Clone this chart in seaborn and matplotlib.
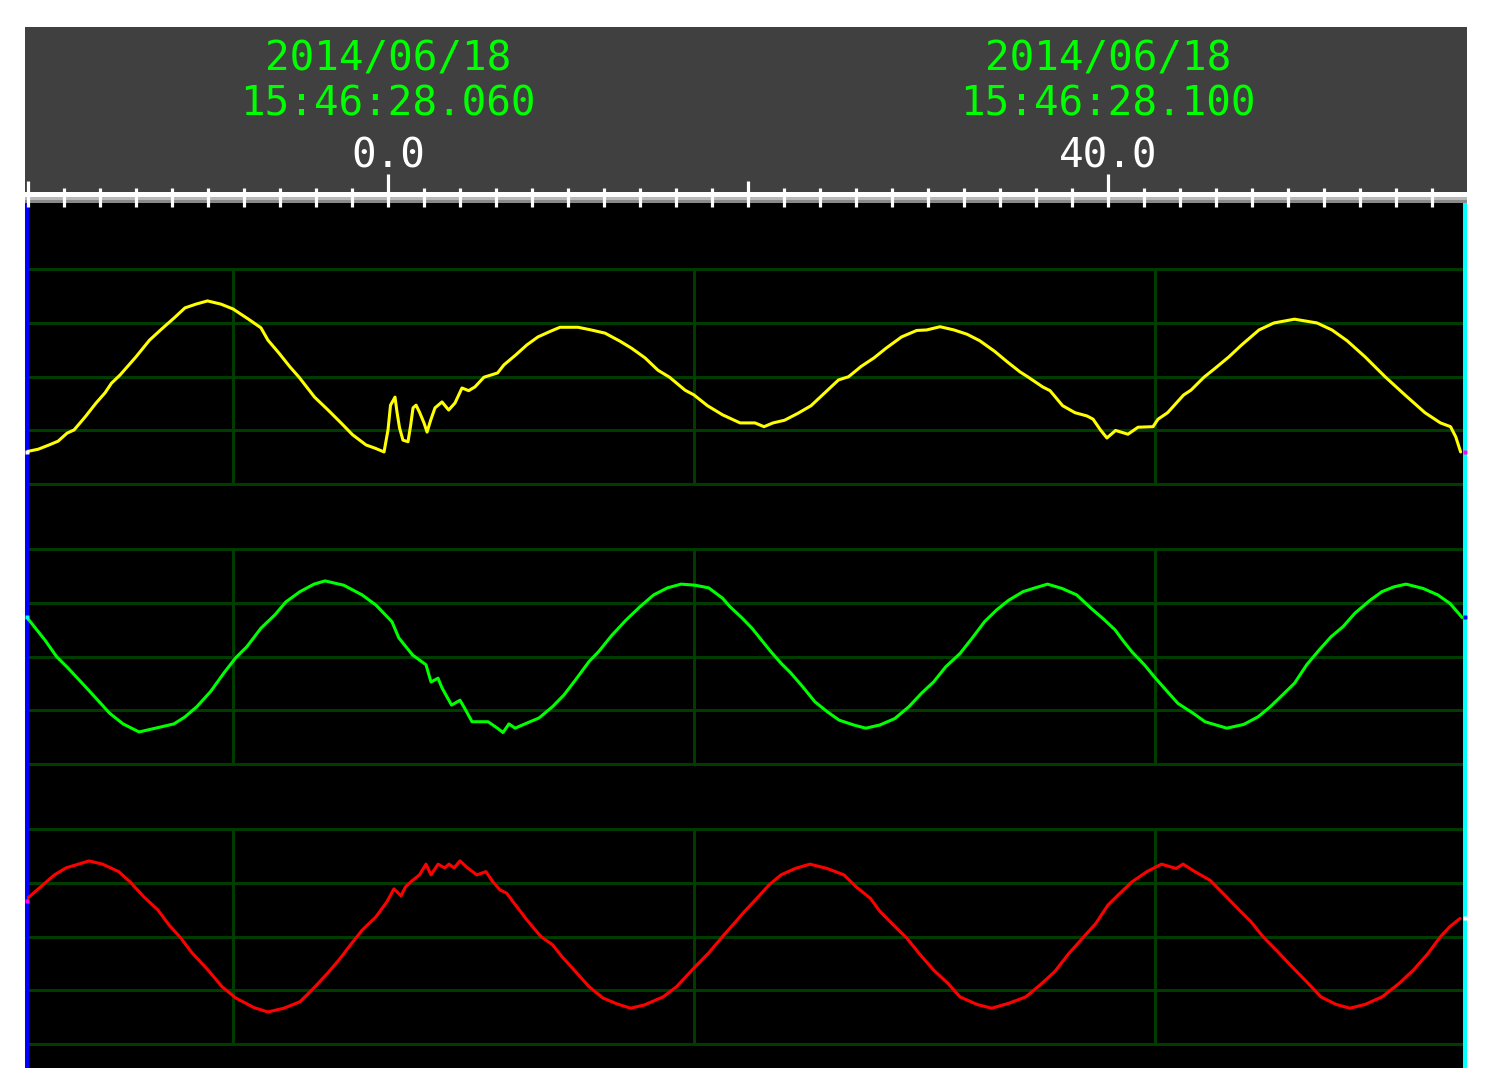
import numpy as np
import matplotlib
matplotlib.use('Agg')
import matplotlib.pyplot as plt
import seaborn as sns

# ── recorded samples: time in ms (0 = first cursor), value in grid divisions
t_a = [-20.17, -19.44, -18.83, -18.33, -17.83, -17.44, -16.83, -16.22, -15.72, -15.36,
       -14.89, -14.00, -13.25, -12.50, -11.89, -11.28, -10.67, -10.03, -9.28, -8.61,
       -7.75, -7.06, -6.67, -6.06, -5.44, -4.94, -4.08, -3.33, -2.61, -1.97,
       -1.22, -0.72, -0.22, 0.00, 0.14, 0.39, 0.50, 0.64, 0.83, 1.11,
       1.26, 1.39, 1.56, 1.75, 2.00, 2.17, 2.37, 2.61, 3.00, 3.37,
       3.72, 4.11, 4.48, 4.83, 5.33, 6.09, 6.44, 7.08, 7.71, 8.33,
       9.06, 9.56, 10.56, 11.28, 12.06, 12.89, 13.53, 14.28, 15.00, 15.64,
       16.50, 17.00, 17.75, 18.59, 19.56, 20.39, 20.89, 21.39, 22.03, 22.78,
       23.50, 24.33, 25.03, 25.59, 26.28, 27.00, 27.67, 28.53, 29.37, 29.93,
       30.67, 31.44, 32.17, 32.87, 33.71, 34.39, 35.11, 35.53, 36.37, 36.78,
       37.48, 38.17, 38.83, 39.17, 39.58, 39.94, 40.42, 41.11, 41.67, 42.50,
       42.78, 43.31, 44.20, 44.61, 45.33, 45.89, 46.72, 47.42, 48.39, 49.22,
       50.36, 51.61, 52.44, 53.28, 54.28, 55.39, 56.50, 57.61, 58.47, 59.03,
       59.32, 59.59]
u_a = [-1.40, -1.35, -1.27, -1.20, -1.05, -0.99, -0.75, -0.49, -0.30, -0.12,
       0.03, 0.37, 0.68, 0.91, 1.09, 1.28, 1.35, 1.41, 1.35, 1.26,
       1.07, 0.91, 0.68, 0.44, 0.18, -0.01, -0.38, -0.62, -0.86, -1.08,
       -1.27, -1.33, -1.40, -0.99, -0.53, -0.38, -0.66, -0.95, -1.18, -1.21,
       -0.90, -0.58, -0.53, -0.66, -0.86, -1.03, -0.81, -0.58, -0.47, -0.62,
       -0.49, -0.21, -0.26, -0.19, -0.01, 0.07, 0.22, 0.40, 0.59, 0.74,
       0.85, 0.92, 0.92, 0.87, 0.81, 0.66, 0.53, 0.35, 0.12, -0.01,
       -0.25, -0.34, -0.54, -0.71, -0.86, -0.86, -0.93, -0.86, -0.81, -0.68,
       -0.54, -0.28, -0.06, 0.00, 0.19, 0.35, 0.53, 0.74, 0.86, 0.87,
       0.93, 0.87, 0.79, 0.67, 0.47, 0.28, 0.09, 0.00, -0.19, -0.26,
       -0.54, -0.67, -0.73, -0.79, -0.99, -1.14, -1.00, -1.07, -0.94, -0.93,
       -0.79, -0.67, -0.34, -0.25, -0.01, 0.14, 0.37, 0.59, 0.87, 1.00,
       1.07, 1.00, 0.87, 0.67, 0.37, 0.00, -0.34, -0.67, -0.86, -0.93,
       -1.12, -1.40]

t_b = [-20.17, -19.94, -19.06, -18.41, -17.78, -17.00, -16.23, -15.47, -14.72, -13.83,
       -12.92, -11.89, -11.28, -10.62, -9.86, -9.11, -8.46, -7.83, -7.06, -6.28,
       -5.67, -4.89, -4.11, -3.50, -2.46, -1.44, -0.67, 0.22, 0.60, 1.37,
       2.11, 2.39, 2.78, 3.00, 3.53, 4.00, 4.31, 4.67, 5.56, 6.08,
       6.39, 6.72, 7.06, 7.61, 8.39, 9.14, 9.78, 10.42, 11.17, 11.69,
       12.44, 13.22, 14.00, 14.76, 15.52, 16.28, 17.06, 17.82, 18.58, 19.00,
       19.67, 20.22, 20.75, 21.28, 21.83, 22.37, 23.04, 23.72, 24.39, 25.06,
       25.87, 26.54, 27.33, 28.16, 28.94, 29.64, 30.31, 30.98, 31.78, 32.44,
       33.14, 33.81, 34.48, 35.28, 35.94, 36.64, 37.44, 38.26, 39.06, 39.72,
       40.39, 40.81, 41.33, 42.02, 42.56, 43.22, 43.89, 44.72, 45.39, 46.60,
       47.54, 48.33, 49.02, 49.70, 50.37, 51.04, 51.72, 52.39, 53.06, 53.72,
       54.56, 55.22, 55.89, 56.56, 57.50, 58.32, 59.00, 59.39, 59.67]
u_b = [0.74, 0.68, 0.31, 0.00, -0.21, -0.49, -0.77, -1.05, -1.25, -1.40,
       -1.33, -1.25, -1.12, -0.93, -0.65, -0.30, -0.02, 0.19, 0.53, 0.78,
       1.02, 1.21, 1.35, 1.41, 1.33, 1.15, 0.96, 0.65, 0.35, 0.03,
       -0.15, -0.47, -0.40, -0.58, -0.90, -0.81, -0.99, -1.21, -1.21, -1.33,
       -1.41, -1.25, -1.33, -1.25, -1.14, -0.93, -0.71, -0.43, -0.09, 0.09,
       0.40, 0.68, 0.93, 1.15, 1.28, 1.35, 1.33, 1.28, 1.09, 0.93,
       0.72, 0.53, 0.31, 0.09, -0.12, -0.30, -0.56, -0.84, -1.02, -1.18,
       -1.27, -1.33, -1.27, -1.15, -0.93, -0.68, -0.47, -0.19, 0.06, 0.34,
       0.65, 0.87, 1.05, 1.21, 1.28, 1.35, 1.27, 1.15, 0.90, 0.71,
       0.50, 0.31, 0.09, -0.15, -0.37, -0.62, -0.87, -1.05, -1.21, -1.33,
       -1.26, -1.12, -0.93, -0.71, -0.49, -0.15, 0.12, 0.37, 0.56, 0.81,
       1.05, 1.21, 1.30, 1.35, 1.27, 1.15, 0.99, 0.84, 0.73]

t_c = [-20.17, -19.94, -19.29, -18.53, -17.89, -16.61, -15.86, -14.96, -14.33, -13.56,
       -12.79, -12.17, -11.52, -10.89, -10.00, -9.22, -8.46, -7.44, -6.67, -5.78,
       -4.89, -4.11, -3.36, -2.72, -2.08, -1.44, -0.67, -0.06, 0.33, 0.72,
       0.98, 1.37, 1.75, 2.11, 2.39, 2.78, 3.15, 3.39, 3.67, 4.00,
       4.42, 4.94, 5.44, 5.83, 6.22, 6.59, 7.22, 7.72, 8.50, 9.14,
       9.66, 10.42, 11.17, 11.94, 12.72, 13.48, 14.24, 15.28, 16.03, 17.06,
       17.82, 18.58, 19.00, 19.81, 20.48, 21.16, 21.83, 22.63, 23.44, 24.39,
       25.33, 26.00, 26.81, 27.33, 28.16, 28.83, 29.50, 30.31, 31.11, 31.78,
       32.72, 33.54, 34.48, 35.43, 36.22, 37.04, 37.83, 38.66, 39.33, 40.00,
       40.67, 41.33, 42.16, 42.97, 43.78, 44.17, 44.83, 45.67, 46.47, 47.28,
       47.94, 48.61, 49.43, 50.22, 51.04, 51.83, 52.67, 53.44, 54.28, 55.22,
       56.17, 56.97, 57.78, 58.47, 59.00, 59.56]
u_c = [0.66, 0.74, 0.93, 1.15, 1.28, 1.41, 1.35, 1.21, 1.02, 0.74,
       0.50, 0.22, -0.02, -0.30, -0.62, -0.93, -1.14, -1.32, -1.40, -1.33,
       -1.21, -0.95, -0.68, -0.43, -0.15, 0.12, 0.37, 0.65, 0.89, 0.76,
       0.93, 1.05, 1.15, 1.35, 1.15, 1.35, 1.28, 1.35, 1.28, 1.41,
       1.28, 1.15, 1.21, 1.02, 0.87, 0.81, 0.53, 0.31, 0.00, -0.15,
       -0.37, -0.65, -0.93, -1.14, -1.25, -1.33, -1.27, -1.12, -0.93, -0.56,
       -0.30, 0.00, 0.16, 0.47, 0.71, 0.96, 1.15, 1.27, 1.35, 1.27,
       1.15, 0.93, 0.71, 0.47, 0.19, -0.03, -0.31, -0.62, -0.87, -1.12,
       -1.26, -1.33, -1.24, -1.12, -0.90, -0.65, -0.31, 0.00, 0.25, 0.59,
       0.81, 1.02, 1.21, 1.35, 1.27, 1.35, 1.21, 1.05, 0.78, 0.50,
       0.28, 0.00, -0.28, -0.56, -0.84, -1.12, -1.26, -1.33, -1.26, -1.12,
       -0.87, -0.62, -0.31, 0.00, 0.19, 0.34]

cursor_t = [0.0, 40.0]
cursor_date = ['2014/06/18', '2014/06/18']
cursor_clock = ['15:46:28.060', '15:46:28.100']
cursor_label = ['0.0', '40.0']
grid_t = [-8.61, 17.0, 42.61]

# ── layout (the screen is mapped in pixels)
W, H = 1490, 1091
PX_MS = 18.0      # pixels per ms
X_ZERO = 388      # pixel column of t = 0
DIV = 53.75       # pixels per grid division
GAP = 280         # pixels between channel centre lines


def box(x0, y0, x1, y1):
    return [x0 / W, 1 - y1 / H, (x1 - x0) / W, (y1 - y0) / H]


def tlim(x0, x1):
    return ((x0 - X_ZERO) / PX_MS, (x1 - X_ZERO) / PX_MS)


sns.set_style('white')
fig = plt.figure(figsize=(W / 100, H / 100), dpi=100)
fig.patch.set_facecolor('white')

# ── trace area
ax = fig.add_axes(box(27, 203, 1465, 1068))
ax.set_facecolor('black')
ax.set_xlim(*tlim(27, 1465))
ax.set_ylim((376.7 - 1068) / DIV, (376.7 - 203) / DIV)
offsets = [0.0, -GAP / DIV, -2 * GAP / DIV]
grid_col = '#003c00'
for off in offsets:
    for k in (-2, -1, 0, 1, 2):
        ax.axhline(off + k, color=grid_col, lw=2.2, zorder=1)
    ax.vlines(grid_t, off - 2, off + 2, color=grid_col, lw=2.2, zorder=1)

channels = [(t_a, u_a, '#ffff00'), (t_b, u_b, '#00ff00'), (t_c, u_c, '#ff0000')]
for (tt, uu, col), off in zip(channels, offsets):
    sns.lineplot(x=tt, y=np.array(uu) + off, ax=ax, color=col, lw=2.2,
                 estimator=None, sort=False, zorder=3)

ax.set_xticks([])
ax.set_yticks([])
ax.set_xlabel('')
ax.set_ylabel('')
for s in ('top', 'bottom'):
    ax.spines[s].set_visible(False)
ax.spines['left'].set_color('#0000ff')
ax.spines['right'].set_color('#00ffff')
for s in ('left', 'right'):
    ax.spines[s].set_linewidth(2.9)
    ax.spines[s].set_capstyle('butt')

# channel end markers on the edge bars
x_l, x_r = ax.get_xlim()
start_cols = ['white', '#00ffff', '#ff00ff']
end_cols = ['#ff00ff', '#0000ff', 'white']
for (tt, uu, _), off, c0, c1 in zip(channels, offsets, start_cols, end_cols):
    ax.plot([x_l], [uu[0] + off], 's', ms=3.2, color=c0, mec='none',
            clip_on=False, zorder=5)
    ax.plot([x_r], [uu[-1] + off], 's', ms=3.2, color=c1, mec='none',
            clip_on=False, zorder=5)

# ── header with time ruler
hx = fig.add_axes(box(25, 27, 1467, 203))
hx.set_zorder(4)
hx.set_facecolor('#404040')
hx.set_xlim(*tlim(25, 1467))
hx.set_ylim(203, 27)
hx.set_xticks([])
hx.set_yticks([])
for s in hx.spines.values():
    s.set_visible(False)

hx.axhspan(192, 197.3, color='white', lw=0)
hx.axhspan(197.3, 200, color='#b8b8b8', lw=0)
hx.axhspan(200, 203, color='#8a8a8a', lw=0)

tick_t = np.arange(-20, 60, 2)
for t in tick_t:
    if t in cursor_t:
        top = 174
    elif t % 20 == 0:
        top = 181
    else:
        top = 188
    hx.plot([t, t], [top, 207], color='white', lw=2.3, solid_capstyle='butt',
            clip_on=False, zorder=3)

mono = 'DejaVu Sans Mono'
for t, d, c, lab in zip(cursor_t, cursor_date, cursor_clock, cursor_label):
    hx.text(t, 70, d, ha='center', va='baseline', color='#00ff00', fontsize=29.5, family=mono)
    hx.text(t, 116, c, ha='center', va='baseline', color='#00ff00', fontsize=29.5, family=mono)
    hx.text(t, 167, lab, ha='center', va='baseline', color='white', fontsize=29.5, family=mono)

fig.savefig('out.png', dpi=100, facecolor='white')
